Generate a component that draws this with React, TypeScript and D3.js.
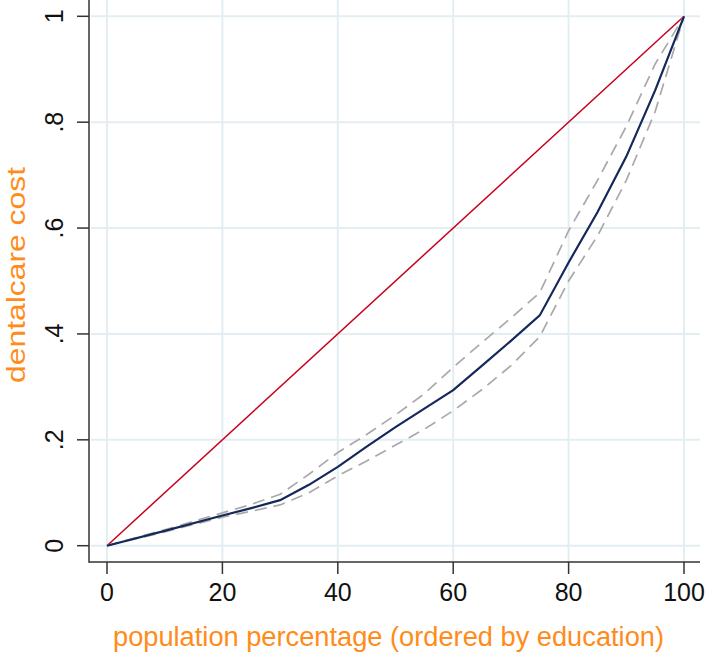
import React from "react";
import * as d3 from "d3";

const xValues = [0, 10, 20, 25, 30, 35, 40, 45, 50, 55, 60, 65, 70, 75, 80, 85, 90, 95, 100];
const concentration = [0, 0.028, 0.057, 0.071, 0.086, 0.115, 0.149, 0.187, 0.224, 0.259, 0.294, 0.34, 0.387, 0.435, 0.535, 0.63, 0.735, 0.86, 1.0];
const upperCI = [0, 0.03, 0.062, 0.078, 0.097, 0.135, 0.176, 0.21, 0.247, 0.287, 0.337, 0.384, 0.43, 0.478, 0.595, 0.69, 0.792, 0.91, 1.0];
const lowerCI = [0, 0.026, 0.054, 0.065, 0.077, 0.1, 0.132, 0.16, 0.19, 0.22, 0.255, 0.295, 0.34, 0.395, 0.5, 0.585, 0.69, 0.82, 1.0];
const equalityX = [0, 100];
const equalityY = [0, 1];
const xTicks = [0, 20, 40, 60, 80, 100];
const yTicks = [0, 0.2, 0.4, 0.6, 0.8, 1];
const yTickLabels = ["0", ".2", ".4", ".6", ".8", "1"];
const xTitle = "population percentage (ordered by education)";
const yTitle = "dentalcare cost";

export default function App() {
  const W = 707, H = 656;
  const x = d3.scaleLinear().domain([0, 100]).range([107, 684]);
  const y = d3.scaleLinear().domain([0, 1]).range([545.7, 16.3]);
  const axisX = 89;
  const axisY = 562;
  const right = 700;
  const font = "'Liberation Sans', Arial, sans-serif";
  const orange = "#ff8c1a";

  const line = d3.line<[number, number]>().x(d => x(d[0])).y(d => y(d[1]));
  const mk = (vals: number[]) => line(xValues.map((v, i) => [v, vals[i]] as [number, number])) || "";
  const eq = line(equalityX.map((v, i) => [v, equalityY[i]] as [number, number])) || "";

  return (
    <svg width={W} height={H} style={{ position: "absolute", left: 0, top: 0, background: "#fff" }}>
      <rect x={0} y={0} width={W} height={H} fill="#fff" />
      {/* grid */}
      {xTicks.map(t => (
        <line key={"gx" + t} x1={x(t)} x2={x(t)} y1={0} y2={axisY} stroke="#e3eef2" strokeWidth={2} />
      ))}
      {yTicks.map(t => (
        <line key={"gy" + t} x1={axisX + 2} x2={right} y1={y(t)} y2={y(t)} stroke="#e3eef2" strokeWidth={2} />
      ))}
      {/* series */}
      <path d={eq} fill="none" stroke="#c8001e" strokeWidth={1.5} />
      <path d={mk(upperCI)} fill="none" stroke="#a9a9a9" strokeWidth={1.7} strokeDasharray="12,7" />
      <path d={mk(lowerCI)} fill="none" stroke="#a9a9a9" strokeWidth={1.7} strokeDasharray="12,7" />
      <path d={mk(concentration)} fill="none" stroke="#14285a" strokeWidth={2.2} />
      {/* axes */}
      <line x1={axisX} x2={axisX} y1={0} y2={axisY + 0.75} stroke="#333" strokeWidth={1.5} />
      <line x1={axisX} x2={right} y1={axisY} y2={axisY} stroke="#333" strokeWidth={1.5} />
      {yTicks.map((t, i) => (
        <g key={"yt" + t}>
          <line x1={axisX - 12} x2={axisX} y1={y(t)} y2={y(t)} stroke="#333" strokeWidth={1.5} />
          <text
            transform={`translate(63,${y(t)}) rotate(-90)`}
            textAnchor="middle"
            fontFamily={font}
            fontSize={25}
            fill="#111"
          >{yTickLabels[i]}</text>
        </g>
      ))}
      {xTicks.map(t => (
        <g key={"xt" + t}>
          <line x1={x(t)} x2={x(t)} y1={axisY} y2={axisY + 12} stroke="#333" strokeWidth={1.5} />
          <text x={x(t)} y={601} textAnchor="middle" fontFamily={font} fontSize={25} fill="#111">{String(t)}</text>
        </g>
      ))}
      <text x={388.5} y={646} textAnchor="middle" fontFamily={font} fontSize={27} fill={orange}
        textLength={551} lengthAdjust="spacingAndGlyphs">{xTitle}</text>
      <text transform="translate(25,275) rotate(-90)" textAnchor="middle" fontFamily={font} fontSize={26} fill={orange}
        textLength={216} lengthAdjust="spacingAndGlyphs">{yTitle}</text>
    </svg>
  );
}
